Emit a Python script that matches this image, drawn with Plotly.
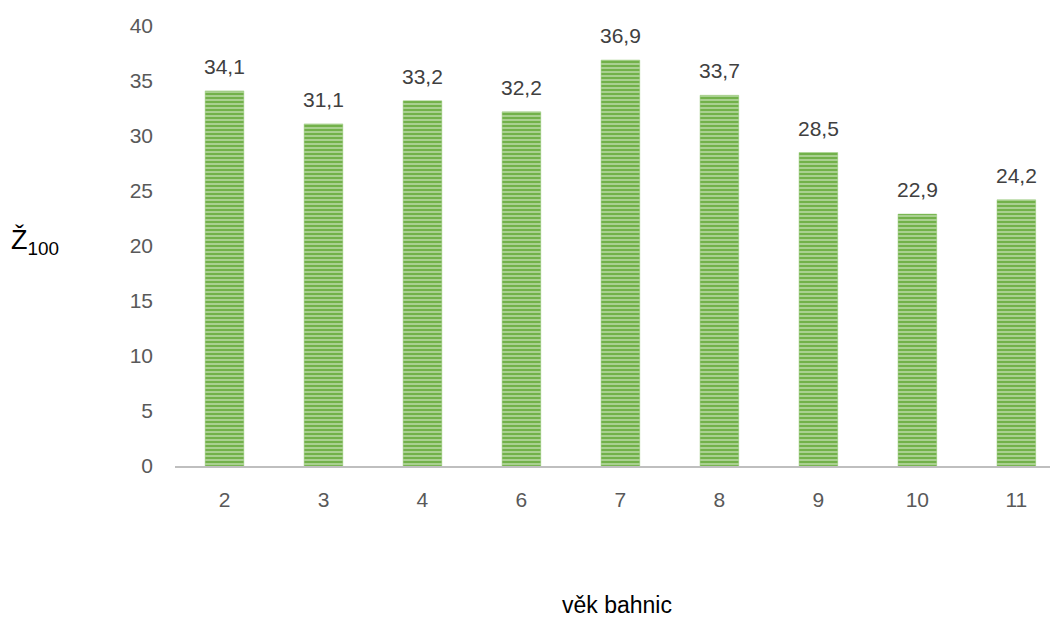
import plotly.graph_objects as go

# Age of ewes and the corresponding Ž100 values
vek = ["2", "3", "4", "6", "7", "8", "9", "10", "11"]
z100 = [34.1, 31.1, 33.2, 32.2, 36.9, 33.7, 28.5, 22.9, 24.2]
y_ticks = [0, 5, 10, 15, 20, 25, 30, 35, 40]

FONT = "Liberation Sans, Arial"

fig = go.Figure()
fig.add_trace(go.Bar(
    x=list(range(len(vek))),
    y=z100,
    width=0.39,
    marker=dict(
        color="#72B14A",
        line=dict(width=0.5, color="#8CC46A"),
        pattern=dict(shape="-", fgcolor="#E0F0D6", size=4, solidity=0.5, fillmode="overlay"),
    ),
    hoverinfo="skip",
))

# Value labels above each bar
for i, val in enumerate(z100):
    fig.add_annotation(
        x=i, y=val, text=f"{val:.1f}".replace(".", ","),
        showarrow=False, yanchor="bottom", yshift=11,
        font=dict(family=FONT, size=21, color="#404040"),
    )

# Axis titles
fig.add_annotation(
    xref="paper", yref="paper", x=-0.19, y=0.51, xanchor="left", yanchor="middle",
    text="Ž<sub>100</sub>", showarrow=False,
    font=dict(family=FONT, size=27, color="#000000"),
)
fig.add_annotation(
    xref="paper", yref="paper", x=0.505, y=-0.317, xanchor="center", yanchor="middle",
    text="věk bahnic", showarrow=False,
    font=dict(family=FONT, size=23, color="#000000"),
)

fig.update_layout(
    width=1050, height=619,
    margin=dict(l=175, r=0, t=26, b=153),
    paper_bgcolor="white", plot_bgcolor="white",
    showlegend=False,
    font=dict(family=FONT, size=21, color="#595959"),
    xaxis=dict(
        range=[-0.5, 8.34],
        tickvals=list(range(len(vek))), ticktext=vek,
        showline=True, linecolor="#BFBFBF", linewidth=2,
        showgrid=False, zeroline=False, ticks="", ticklabelstandoff=14,
        tickfont=dict(size=21, color="#595959"),
    ),
    yaxis=dict(
        range=[0, 40], tickvals=y_ticks, showgrid=False, zeroline=False,
        showline=False, ticks="", ticklabelstandoff=21,
        tickfont=dict(size=21, color="#595959"),
    ),
)

fig.write_html("out.html")
